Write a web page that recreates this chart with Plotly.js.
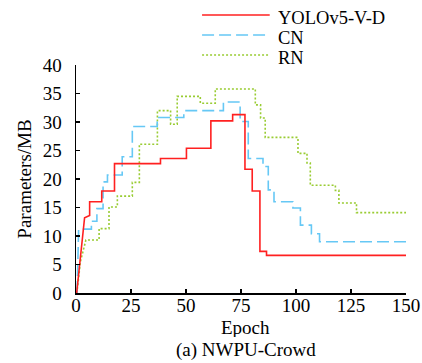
<!DOCTYPE html>
<html>
<head>
<meta charset="utf-8">
<script src="https://cdn.plot.ly/plotly-3.0.1.min.js"></script>
<style>html,body{margin:0;padding:0;background:#fff;}#chart{width:422px;height:363px;}</style>
</head>
<body>
<div id="chart"></div>
<script>
// Series names
const seriesNames = ["YOLOv5-V-D", "CN", "RN"];

// YOLOv5-V-D (red, solid) – corner points of the step curve
const redEpoch = [0.3, 3.9, 6.2, 6.2, 11.7, 11.7, 17.5, 17.5, 38.4, 38.4, 50.2, 50.2, 61.3, 61.3, 71.2, 71.2, 76.8, 76.8, 80.1, 80.1, 83.6, 83.6, 86.6, 86.6, 150];
const redParams = [0, 13.2, 13.6, 16.0, 16.0, 17.9, 17.9, 22.7, 22.7, 23.6, 23.6, 25.4, 25.4, 30.2, 30.2, 31.3, 31.3, 21.7, 21.7, 17.9, 17.9, 7.3, 7.3, 6.6, 6.6];

// CN (light blue, dashed)
const cnEpoch = [0.5, 1.2, 7, 7, 9.5, 9.5, 12.3, 12.3, 14.3, 14.3, 21, 21, 25.6, 25.6, 36.9, 36.9, 49, 49, 67, 67, 74.6, 74.6, 78.3, 78.3, 85, 85, 87.4, 87.4, 90, 90, 98.6, 98.6, 102, 102, 107, 107, 110.7, 110.7, 150];
const cnParams = [0, 11.2, 11.2, 12.6, 12.6, 14.8, 14.8, 19.5, 19.5, 20.7, 20.7, 23.9, 23.9, 29.2, 29.2, 30.8, 30.8, 32.0, 32.0, 33.5, 33.5, 30.1, 30.1, 23.6, 23.6, 22.2, 22.2, 18.1, 18.1, 16.0, 16.0, 14.9, 14.9, 11.9, 11.9, 10.4, 10.4, 9.0, 9.0];

// RN (yellow-green, dotted)
const rnEpoch = [0.4, 2.0, 4.5, 10.5, 10.5, 15, 15, 18.8, 18.8, 25.6, 25.6, 28.8, 28.8, 37, 37, 43, 43, 46, 46, 56.5, 56.5, 63.3, 63.3, 81.5, 81.5, 83.9, 83.9, 86, 86, 100.9, 100.9, 105, 105, 106.5, 106.5, 117.9, 117.9, 119.5, 119.5, 127.5, 127.5, 150];
const rnParams = [0, 5.5, 9.3, 9.3, 11.3, 11.3, 15.1, 15.1, 17.0, 17.0, 19.4, 19.4, 26.1, 26.1, 32.0, 32.0, 29.6, 29.6, 34.5, 34.5, 33.3, 33.3, 35.8, 35.8, 33.0, 33.0, 30.7, 30.7, 27.3, 27.3, 24.5, 24.5, 22.8, 22.8, 18.9, 18.9, 18.0, 18.0, 15.8, 15.8, 14.1, 14.1];

// Axis ticks and labels
const xTicks = [0, 25, 50, 75, 100, 125, 150];
const yTicks = [0, 5, 10, 15, 20, 25, 30, 35, 40];
const xTitle = "Epoch";
const yTitle = "Parameters/MB";
const caption = "(a) NWPU-Crowd";

const colors = ["#ff2020", "#66c8f5", "#99cc33"];
const dashes = ["solid", "12px,5px", "2px,2px"];
const FONT = "Liberation Serif, Times New Roman, Times, serif";

const traces = [
  {x: rnEpoch, y: rnParams, name: seriesNames[2], mode: "lines", line: {color: colors[2], width: 1.6, dash: dashes[2]}, showlegend: false},
  {x: cnEpoch, y: cnParams, name: seriesNames[1], mode: "lines", line: {color: colors[1], width: 1.6, dash: dashes[1]}, showlegend: false},
  {x: redEpoch, y: redParams, name: seriesNames[0], mode: "lines", line: {color: colors[0], width: 1.6, dash: dashes[0]}, showlegend: false}
];

// custom legend (line samples + labels) in paper coordinates
const legendLineY = [1.2196, 1.1318, 1.0439];
const legendTextY = [1.207, 1.119, 1.031];
const shapes = [];
const annotations = [];
for (let i = 0; i < 3; i++) {
  shapes.push({type: "line", xref: "paper", yref: "paper", x0: 0.382, x1: 0.587, y0: legendLineY[i], y1: legendLineY[i],
    line: {color: colors[i], width: 1.6, dash: dashes[i]}});
  annotations.push({xref: "paper", yref: "paper", x: 0.605, y: legendTextY[i], xanchor: "left", yanchor: "middle",
    height: 18, valign: "middle",
    text: seriesNames[i], showarrow: false, font: {family: FONT, size: 18.5, color: "#000"}});
}
annotations.push({xref: "paper", yref: "paper", x: 0.515, y: -0.1506, xanchor: "center", yanchor: "middle",
  height: 20, valign: "middle",
  text: xTitle, showarrow: false, font: {family: FONT, size: 19, color: "#000"}});
annotations.push({xref: "paper", yref: "paper", x: 0.515, y: -0.2517, xanchor: "center", yanchor: "middle",
  height: 20, valign: "middle",
  text: caption, showarrow: false, font: {family: FONT, size: 19, color: "#000"}});

const layout = {
  width: 422, height: 363,
  margin: {l: 75.5, r: 16.3, t: 65, b: 70.3, pad: 0},
  paper_bgcolor: "#fff", plot_bgcolor: "#fff",
  font: {family: FONT, size: 19, color: "#000"},
  showlegend: false,
  xaxis: {
    range: [0, 150], tickvals: xTicks, ticktext: xTicks.map(String),
    showgrid: false, zeroline: false, showline: true, linecolor: "#000", linewidth: 1.5,
    ticks: "inside", ticklen: 4, tickwidth: 1.3, tickcolor: "#000",
    ticklabelstandoff: -5,
    tickfont: {family: FONT, size: 19, color: "#000"},
    automargin: false
  },
  yaxis: {
    range: [0, 40], tickvals: yTicks, ticktext: yTicks.map(String),
    showgrid: false, zeroline: false, showline: true, linecolor: "#000", linewidth: 1.5,
    ticks: "inside", ticklen: 4, tickwidth: 1.3, tickcolor: "#000",
    ticklabelstandoff: 9,
    tickfont: {family: FONT, size: 19, color: "#000"},
    title: {text: yTitle, font: {family: FONT, size: 19, color: "#000"}, standoff: 6},
    automargin: false
  },
  shapes: shapes,
  annotations: annotations
};

Plotly.newPlot("chart", traces, layout, {displayModeBar: false, staticPlot: true});
</script>
</body>
</html>
